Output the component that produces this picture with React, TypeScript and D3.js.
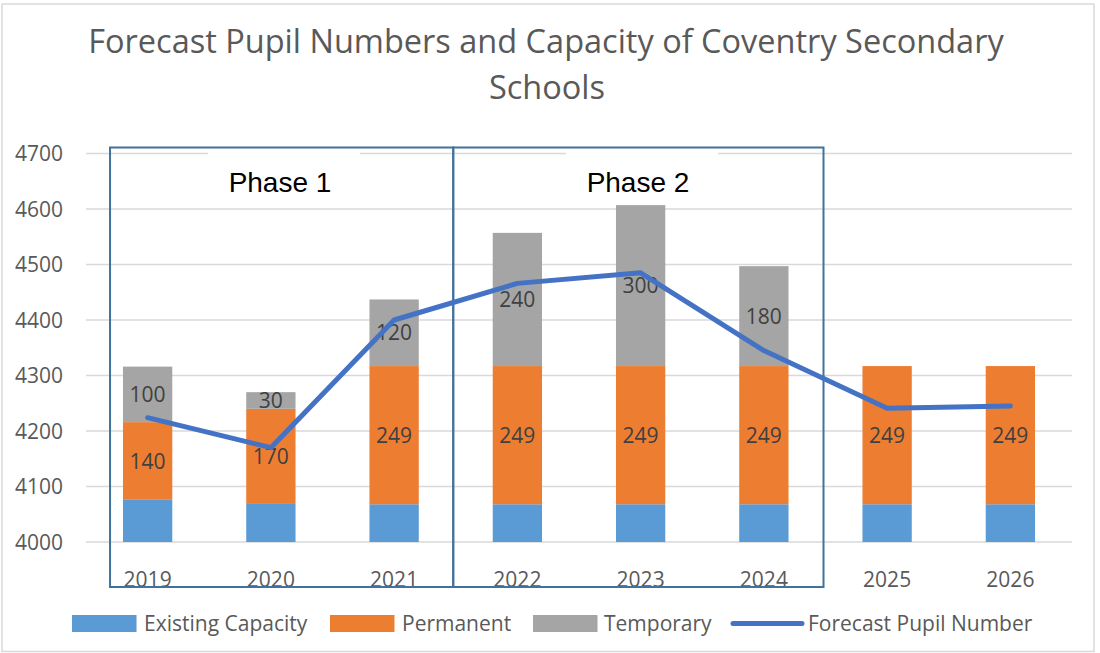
import React from 'react';
import * as d3 from 'd3';

const years = ['2019', '2020', '2021', '2022', '2023', '2024', '2025', '2026'];
const existingCapacity = [4076, 4070, 4068, 4068, 4068, 4068, 4068, 4068];
const permanent = [140, 170, 249, 249, 249, 249, 249, 249];
const temporary = [100, 30, 120, 240, 290, 180, 0, 0];
const permanentLabels = ['140', '170', '249', '249', '249', '249', '249', '249'];
const temporaryLabels = ['100', '30', '120', '240', '300', '180', '', ''];
const forecastPupils = [4224, 4170, 4400, 4466, 4485, 4345, 4241, 4245];
const yTicks = [4000, 4100, 4200, 4300, 4400, 4500, 4600, 4700];
const seriesNames = ['Existing Capacity', 'Permanent', 'Temporary', 'Forecast Pupil Number'];
const phases = ['Phase 1', 'Phase 2'];

const colors = ['#5B9BD5', '#ED7D31', '#A5A5A5', '#4472C4'];
const font = '"Open Sans", sans-serif';

export default function App() {
  const width = 1100, height = 653;
  const left = 86, right = 1072, top = 153.5, bottom = 542;

  const rows = years.map((yr, i) => ({
    year: yr,
    existing: existingCapacity[i],
    permanent: permanent[i],
    temporary: temporary[i],
  }));
  const stack = d3.stack<any>().keys(['existing', 'permanent', 'temporary']);
  const layers = stack(rows);
  const labelsByKey: Record<string, string[]> = {
    existing: years.map(() => ''),
    permanent: permanentLabels,
    temporary: temporaryLabels,
  };

  const x = d3.scaleBand().domain(years).range([left, right]).padding(0);
  const y = d3.scaleLinear().domain([4000, 4700]).range([bottom, top]).clamp(true);
  const barW = x.bandwidth() / 2.5;
  const cx = (yr: string) => (x(yr) as number) + x.bandwidth() / 2;

  const line = d3.line<number>()
    .x((_, i) => cx(years[i]))
    .y((d) => y(d));

  // phase boxes follow the category bands
  const boxTop = y(4700) - 6;
  const boxBottom = 587;
  const p1Left = (x('2019') as number) + x.bandwidth() * 0.195;
  const p1Right = (x('2022') as number) - 2.5;
  const p2Right = (x('2025') as number) - 2;
  const phaseBoxes = [
    { x0: p1Left, x1: p1Right, label: phases[0], cx: 280 },
    { x0: p1Right, x1: p2Right, label: phases[1], cx: 638 },
  ];

  const legendItems = [
    { sx: 72, tx: 144 },
    { sx: 330, tx: 402 },
    { sx: 533, tx: 604 },
    { sx: 733, tx: 808 },
  ];

  return (
    <svg width={width} height={height} style={{ position: 'absolute', left: 0, top: 0, background: '#fff' }}>
      <rect x={2} y={4} width={1092} height={647.5} fill="#fff" stroke="#D9D9D9" strokeWidth={1.5} />

      <text x={546} y={53} textAnchor="middle" fontFamily={font} fontSize={32.5} fill="#595959">
        Forecast Pupil Numbers and Capacity of Coventry Secondary
      </text>
      <text x={547} y={99} textAnchor="middle" fontFamily={font} fontSize={32.5} fill="#595959">
        Schools
      </text>

      {yTicks.map((t) => (
        <g key={t}>
          <line x1={left} x2={right} y1={y(t)} y2={y(t)} stroke="#D9D9D9" strokeWidth={1.5} />
          <text x={63} y={y(t)} dy="0.36em" textAnchor="end" fontFamily={font} fontSize={21} fill="#595959">
            {t}
          </text>
        </g>
      ))}

      {layers.map((layer, li) => (
        <g key={layer.key} fill={colors[li]}>
          {layer.map((d, i) => {
            const y0 = y(d[0]), y1 = y(d[1]);
            if (y0 - y1 <= 0) return null;
            return <rect key={i} x={cx(years[i]) - barW / 2} y={y1} width={barW} height={y0 - y1} />;
          })}
        </g>
      ))}

      {layers.map((layer) => (
        <g key={'lab' + layer.key}>
          {layer.map((d, i) => {
            const txt = labelsByKey[layer.key][i];
            if (!txt) return null;
            return (
              <text key={i} x={cx(years[i])} y={(y(d[0]) + y(d[1])) / 2} dy="0.36em" textAnchor="middle"
                fontFamily={font} fontSize={21} fill="#404040">
                {txt}
              </text>
            );
          })}
        </g>
      ))}

      {years.map((yr) => (
        <text key={yr} x={cx(yr)} y={587} textAnchor="middle" fontFamily={font} fontSize={21} fill="#595959">
          {yr}
        </text>
      ))}

      {phaseBoxes.map((b) => (
        <g key={b.label}>
          <rect x={b.cx - 72} y={boxTop + 2} width={152} height={50} fill="#fff" />
          <text x={b.cx} y={192} textAnchor="middle" fontFamily='"Liberation Sans", Arial, sans-serif' fontSize={28} fill="#000">
            {b.label}
          </text>
        </g>
      ))}
      {phaseBoxes.map((b) => (
        <rect key={'box' + b.label} x={b.x0} y={boxTop} width={b.x1 - b.x0} height={boxBottom - boxTop}
          fill="none" stroke="#41719C" strokeWidth={2} />
      ))}

      <path d={line(forecastPupils) || ''} fill="none" stroke={colors[3]} strokeWidth={5} strokeLinejoin="round" strokeLinecap="round" />

      {seriesNames.map((name, i) => (
        <g key={name}>
          {i < 3 ? (
            <rect x={legendItems[i].sx} y={615} width={64.5} height={17} fill={colors[i]} />
          ) : (
            <line x1={legendItems[i].sx} x2={legendItems[i].sx + 69} y1={623.5} y2={623.5} stroke={colors[3]} strokeWidth={5} strokeLinecap="round" />
          )}
          <text x={legendItems[i].tx} y={623.5} dy="0.36em" fontFamily={font} fontSize={21} fill="#595959">
            {name}
          </text>
        </g>
      ))}
    </svg>
  );
}
